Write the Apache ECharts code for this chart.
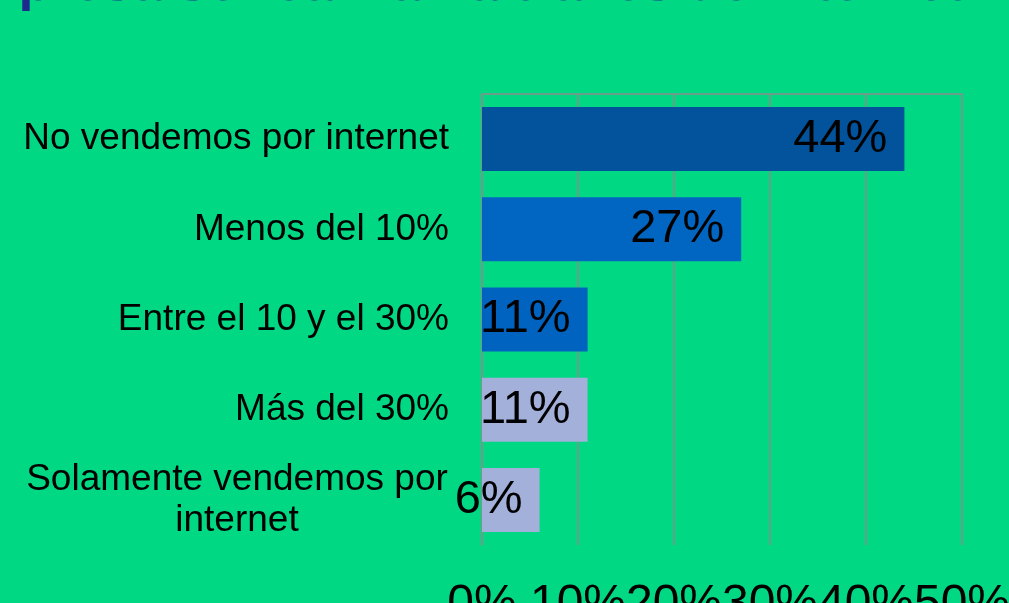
<!DOCTYPE html>
<html>
<head>
<meta charset="utf-8">
<script src="https://cdn.jsdelivr.net/npm/echarts@6/dist/echarts.min.js"></script>
<style>
  html, body { margin: 0; padding: 0; background: #00d884; }
  #chart { width: 1009px; height: 603px; }
</style>
</head>
<body>
<div id="chart"></div>
<script>
    // respuestas y porcentajes
    var categories = ['No vendemos por internet', 'Menos del 10%', 'Entre el 10 y el 30%', 'Más del 30%', 'Solamente vendemos por internet'];
    var values = [44, 27, 11, 11, 6];
    var barColors = ['#02539c', '#0066c2', '#0063c0', '#a2b0da', '#a2b0da'];
    var xTicks = [0, 10, 20, 30, 40, 50];

    var font = '"Liberation Sans", Arial, sans-serif';
    var chart = echarts.init(document.getElementById('chart'));

    chart.setOption({
        backgroundColor: '#00d884',
        animation: false,
        graphic: [{
            type: 'text',
            right: 12,
            top: -42,
            style: {
                text: '¿Qué porcentaje de las ventas de su empresa se realizan a través de internet?',
                font: 'bold 54px ' + font,
                fill: '#1e2a8c'
            }
        }],
        grid: { left: 482, right: 47, top: 94, bottom: 58, outerBoundsMode: 'none', containLabel: false },
        xAxis: [{
            type: 'value',
            min: xTicks[0],
            max: xTicks[xTicks.length - 1],
            interval: 10,
            axisLine: { show: false },
            axisTick: { show: false },
            splitLine: { lineStyle: { color: '#8c8c8c', width: 1.5 } },
            axisLabel: {
                formatter: '{value}%',
                fontFamily: font,
                fontSize: 48,
                color: '#000',
                margin: 36,
                hideOverlap: false
            }
        }, {
            type: 'value',
            position: 'top',
            min: xTicks[0],
            max: xTicks[xTicks.length - 1],
            axisLine: { show: true, lineStyle: { color: '#8c8c8c', width: 1.5 } },
            axisTick: { show: false },
            axisLabel: { show: false },
            splitLine: { show: false }
        }],
        yAxis: {
            type: 'category',
            inverse: true,
            data: categories,
            axisLine: { show: true, lineStyle: { color: '#8c8c8c', width: 1.5 } },
            axisTick: { show: false },
            axisLabel: {
                fontFamily: font,
                fontSize: 37,
                color: '#000',
                margin: 33,
                lineHeight: 41,
                formatter: function (v) {
                    if (v === 'Solamente vendemos por internet') {
                        return '{c|Solamente vendemos por}\n{c|internet}';
                    }
                    return v;
                },
                rich: {
                    c: { width: 424, align: 'center', fontSize: 37, fontFamily: font, color: '#000', lineHeight: 41 }
                }
            }
        },
        series: [{
            type: 'bar',
            barWidth: '71%',
            data: values.map(function (v, i) {
                return { value: v, itemStyle: { color: barColors[i] } };
            }),
            label: {
                show: true,
                position: 'insideRight',
                distance: 17,
                formatter: '{c}%',
                fontFamily: font,
                fontSize: 47,
                color: '#000'
            }
        }]
    });
</script>
</body>
</html>
